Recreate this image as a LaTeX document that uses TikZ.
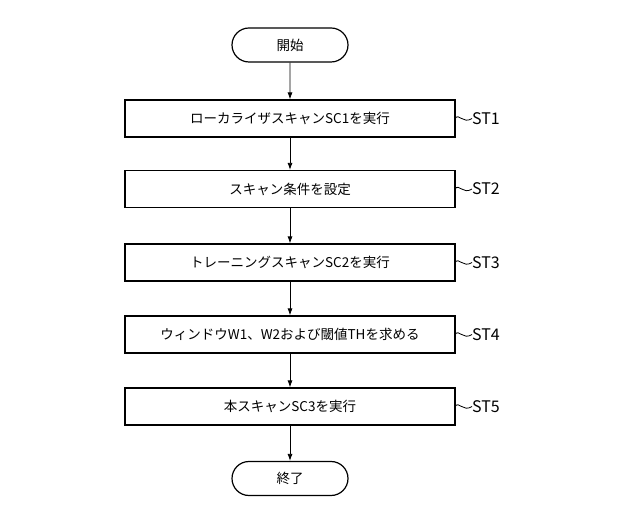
\documentclass[tikz,border=0pt]{standalone}
\usepackage{fontspec}
\setmainfont{Noto Sans CJK JP}
\usetikzlibrary{shapes.misc,arrows.meta,calc}
\begin{document}
\begin{tikzpicture}[x=1pt,y=-1pt,
  box/.style={draw,line width=1.2pt,minimum width=330pt,minimum height=37pt,inner sep=0pt,font=\fontsize{13.5}{15}\selectfont},
  term/.style={draw,line width=1.2pt,rounded rectangle,minimum width=116pt,minimum height=34pt,inner sep=0pt,font=\fontsize{13.5}{15}\selectfont},
  lab/.style={anchor=west,font=\fontsize{16}{18}\selectfont,inner sep=0pt},
  arr/.style={-{Latex[length=7pt,width=5pt]},line width=0.8pt},
  tl/.style={line width=0.8pt}]
\useasboundingbox (0,0) rectangle (640,526);
\node[term] (s) at (290,45) {開始};
\node[box] (b1) at (290,118.5) {ローカライザスキャンSC1を実行};
\node[box] (b2) at (290,189) {スキャン条件を設定};
\node[box] (b3) at (290,262.5) {トレーニングスキャンSC2を実行};
\node[box] (b4) at (290,334.5) {ウィンドウW1、W2および閾値THを求める};
\node[box] (b5) at (290,406.5) {本スキャンSC3を実行};
\node[term] (e) at (290,478.5) {終了};
\draw[arr] (s) -- (b1);
\draw[arr] (b1) -- (b2);
\draw[arr] (b2) -- (b3);
\draw[arr] (b3) -- (b4);
\draw[arr] (b4) -- (b5);
\draw[arr] (b5) -- (e);
\foreach \i/\y in {1/118.5,2/189,3/262.5,4/334.5,5/406.5}{
  \coordinate (c\i) at (455,\y);
  \node[lab] (l\i) at (472,\y) {ST\i};
  \draw[tl] (c\i) .. controls ($(c\i)+(4,-6)$) and ($(c\i)+(8,6)$) .. (l\i.west);
}
\end{tikzpicture}
\end{document}
